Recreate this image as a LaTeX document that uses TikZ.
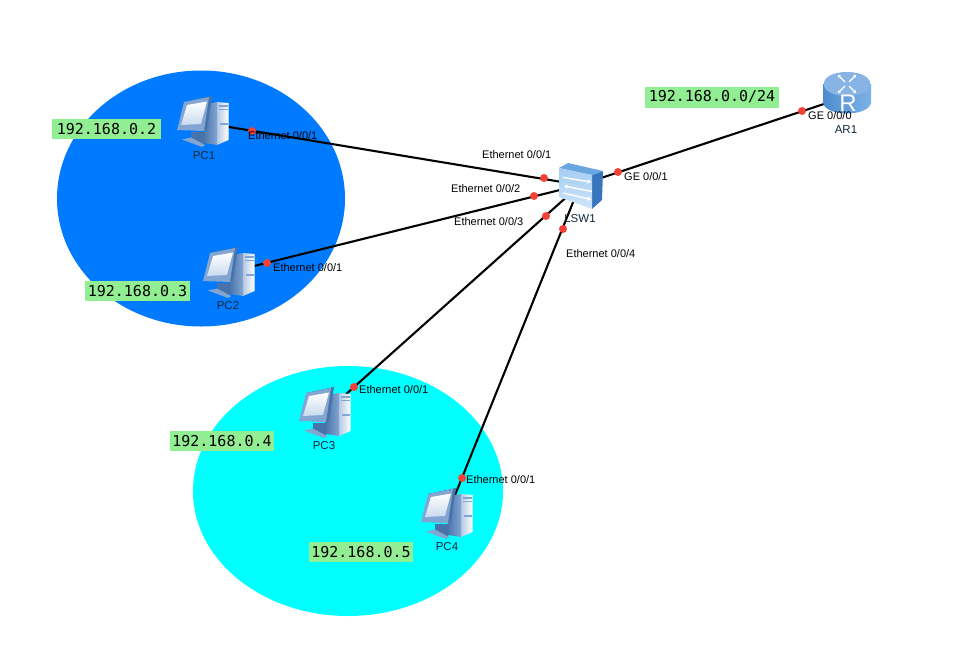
\documentclass[tikz,border=0pt]{standalone}
\usepackage{fontspec}
\setmainfont{Liberation Sans}
\newfontfamily\ipfont{DejaVu Sans Mono}
\usetikzlibrary{arrows.meta}
\definecolor{blobblue}{RGB}{0,122,255}
\definecolor{blobcyan}{RGB}{0,255,255}
\definecolor{ipgreen}{RGB}{146,238,146}
\definecolor{portred}{RGB}{244,67,54}
\definecolor{icondark}{RGB}{72,115,170}
\definecolor{iconmid}{RGB}{130,165,210}
\definecolor{iconlight}{RGB}{225,236,248}
\definecolor{swfront}{RGB}{185,218,248}
\definecolor{swtop}{RGB}{105,165,222}
\definecolor{swside}{RGB}{55,118,188}
\definecolor{rtop}{RGB}{135,180,228}
\definecolor{rsidea}{RGB}{78,140,208}
\definecolor{rsideb}{RGB}{125,178,232}
\definecolor{labeltxt}{RGB}{20,40,60}
\tikzset{
  x=1pt,y=-1pt,
  link/.style={line width=2.1pt,black},
  port/.style={circle,fill=portred,draw=none,minimum size=8pt,inner sep=0pt},
  portlabel/.style={font=\fontsize{11}{12}\selectfont,text=black,inner sep=0pt},
  devlabel/.style={font=\fontsize{11.5}{13}\selectfont,text=labeltxt,inner sep=0pt},
  iplabel/.style={fill=ipgreen,font=\ipfont\fontsize{15}{16}\selectfont,text=black,inner sep=0pt,minimum height=20pt,minimum width=109pt},
  anchorpt/.style={inner sep=0pt,minimum size=1pt},
  pcicon/.pic={
    % tower
    \shade[left color=iconmid!60!white,right color=white] (57,22) -- (68.5,23) -- (68.5,60) -- (57,65) -- cycle;
    \shade[left color=icondark,right color=iconmid] (43,25) -- (57,22) -- (57,65) -- (44,63) -- cycle;
    \fill[iconmid] (59,25) rectangle (68,27);
    \fill[iconmid] (59,29) rectangle (68,30);
    \fill[iconmid] (60,43) rectangle (68,45);
    % stand
    \fill[icondark] (31,52) -- (44,52) -- (44,66) -- (31,60) -- cycle;
    \fill[iconmid] (22,59.5) -- (31,57.5) -- (45,65) -- (42,67) -- cycle;
    % monitor
    \fill[icondark] (24,22) -- (52,16) -- (47,50) -- (36,51) -- cycle;
    \fill[iconmid] (24,22) -- (49,17) -- (44,51) -- (17,50) -- cycle;
    \shade[top color=white,bottom color=iconlight!75!iconmid] (27,25) -- (47,21.5) -- (41,44) -- (21,45) -- cycle;
  },
  swicon/.pic={
    \fill[swside] (603,171) -- (602,200) -- (592,209) -- (592,175) -- cycle;
    \fill[swtop] (559,168) -- (568,163) -- (603,171) -- (592,175) -- cycle;
    \shade[top color=swfront!75!swtop,bottom color=swfront!70!white] (559,168) -- (592,175) -- (592,209) -- (559,197) -- cycle;
    \draw[white,line width=1.4pt,-{Stealth[length=4pt,width=5pt]}] (563,177.5) -- (591,182);
    \draw[white,line width=1.4pt,{Stealth[length=4pt,width=5pt]}-] (564,186) -- (592,191.5);
    \draw[white,line width=1.4pt,-{Stealth[length=4pt,width=5pt]}] (563,193) -- (591,199.5);
  },
  routericon/.pic={
    \shade[left color=rsidea,right color=rsideb] (823,84) -- (823,103) .. controls (826,117) and (868,117) .. (871,103) -- (871,84) -- cycle;
    \fill[rtop] (847,72) .. controls (816,72) and (816,96) .. (847,96) .. controls (878,96) and (878,72) .. (847,72) -- cycle;
    \foreach \a in {45,135,225,315}
      \draw[white,line width=1.2pt,-{Stealth[length=3pt,width=3.5pt]}] ([shift={(\a:3pt)}]847,84) -- ([shift={(\a:13pt)}]847,84);
    \node[text=white,font=\fontsize{24}{25}\selectfont,inner sep=0pt] at (848,103.5) {R};
  }
}
\begin{document}
\begin{tikzpicture}
\useasboundingbox (0,0) rectangle (976,648);
\fill[white] (0,0) rectangle (976,648);
\fill[blobblue] (201,198.5) ellipse [x radius=144, y radius=128];
\fill[blobcyan] (348,491) ellipse [x radius=155, y radius=125];

% connection points of devices
\node[anchorpt] (PCa) at (217,125) {};
\node[anchorpt] (PCb) at (230,272) {};
\node[anchorpt] (PCc) at (325,413) {};
\node[anchorpt] (PCd) at (449,510) {};
\node[anchorpt] (SW) at (580,185) {};
\node[anchorpt] (AR) at (848,96) {};

\draw[link] (PCa.center) -- (SW.center);
\draw[link] (PCb.center) -- (SW.center);
\draw[link] (PCc.center) -- (SW.center);
\draw[link] (PCd.center) -- (SW.center);
\draw[link] (AR.center) -- (SW.center);

% device icons
\pic at (160,80) {pcicon};
\pic at (186,231) {pcicon};
\pic at (282,371) {pcicon};
\pic at (404,472) {pcicon};
\pic at (0,0) {swicon};
\pic at (0,0) {routericon};

% port dots
\node[port] (d1) at (252,131) {};
\node[port] (d2) at (544,178) {};
\node[port] (d3) at (267,263) {};
\node[port] (d4) at (534,196) {};
\node[port] (d5) at (354,387) {};
\node[port] (d6) at (546,216) {};
\node[port] (d7) at (462,478) {};
\node[port] (d8) at (563,229) {};
\node[port] (d9) at (618,172) {};
\node[port] (d10) at (802,111) {};

% device labels
\node[devlabel] (lpc1) at (204,155.5) {PC1};
\node[devlabel] (lpc2) at (228,305.5) {PC2};
\node[devlabel] (lpc3) at (324,445.5) {PC3};
\node[devlabel] (lpc4) at (447,546.5) {PC4};
\node[devlabel] (lsw) at (580,218.5) {LSW1};
\node[devlabel] (lar) at (846,129.5) {AR1};

% port labels
\node[portlabel,anchor=west] (p1) at (248,135.5) {Ethernet 0/0/1};
\node[portlabel,anchor=west] (p2) at (482,154.5) {Ethernet 0/0/1};
\node[portlabel,anchor=west] (p3) at (451,188.5) {Ethernet 0/0/2};
\node[portlabel,anchor=west] (p4) at (454,221.5) {Ethernet 0/0/3};
\node[portlabel,anchor=west] (p5) at (566,253.5) {Ethernet 0/0/4};
\node[portlabel,anchor=west] (p6) at (273,267.5) {Ethernet 0/0/1};
\node[portlabel,anchor=west] (p7) at (359,389.5) {Ethernet 0/0/1};
\node[portlabel,anchor=west] (p8) at (466,479.5) {Ethernet 0/0/1};
\node[portlabel,anchor=west] (p9) at (624,176.5) {GE 0/0/1};
\node[portlabel,anchor=west] (p10) at (808,115.5) {GE 0/0/0};

% addresses
\node[iplabel] (ip1) at (106.5,129) {192.168.0.2};
\node[iplabel,minimum width=105pt] (ip2) at (137.5,291) {192.168.0.3};
\node[iplabel,minimum width=104pt] (ip3) at (222,441) {192.168.0.4};
\node[iplabel,minimum width=104pt] (ip4) at (361,552) {192.168.0.5};
\node[iplabel,minimum width=134pt,minimum height=21pt] (ip5) at (712,97) {192.168.0.0/24};
\end{tikzpicture}
\end{document}
